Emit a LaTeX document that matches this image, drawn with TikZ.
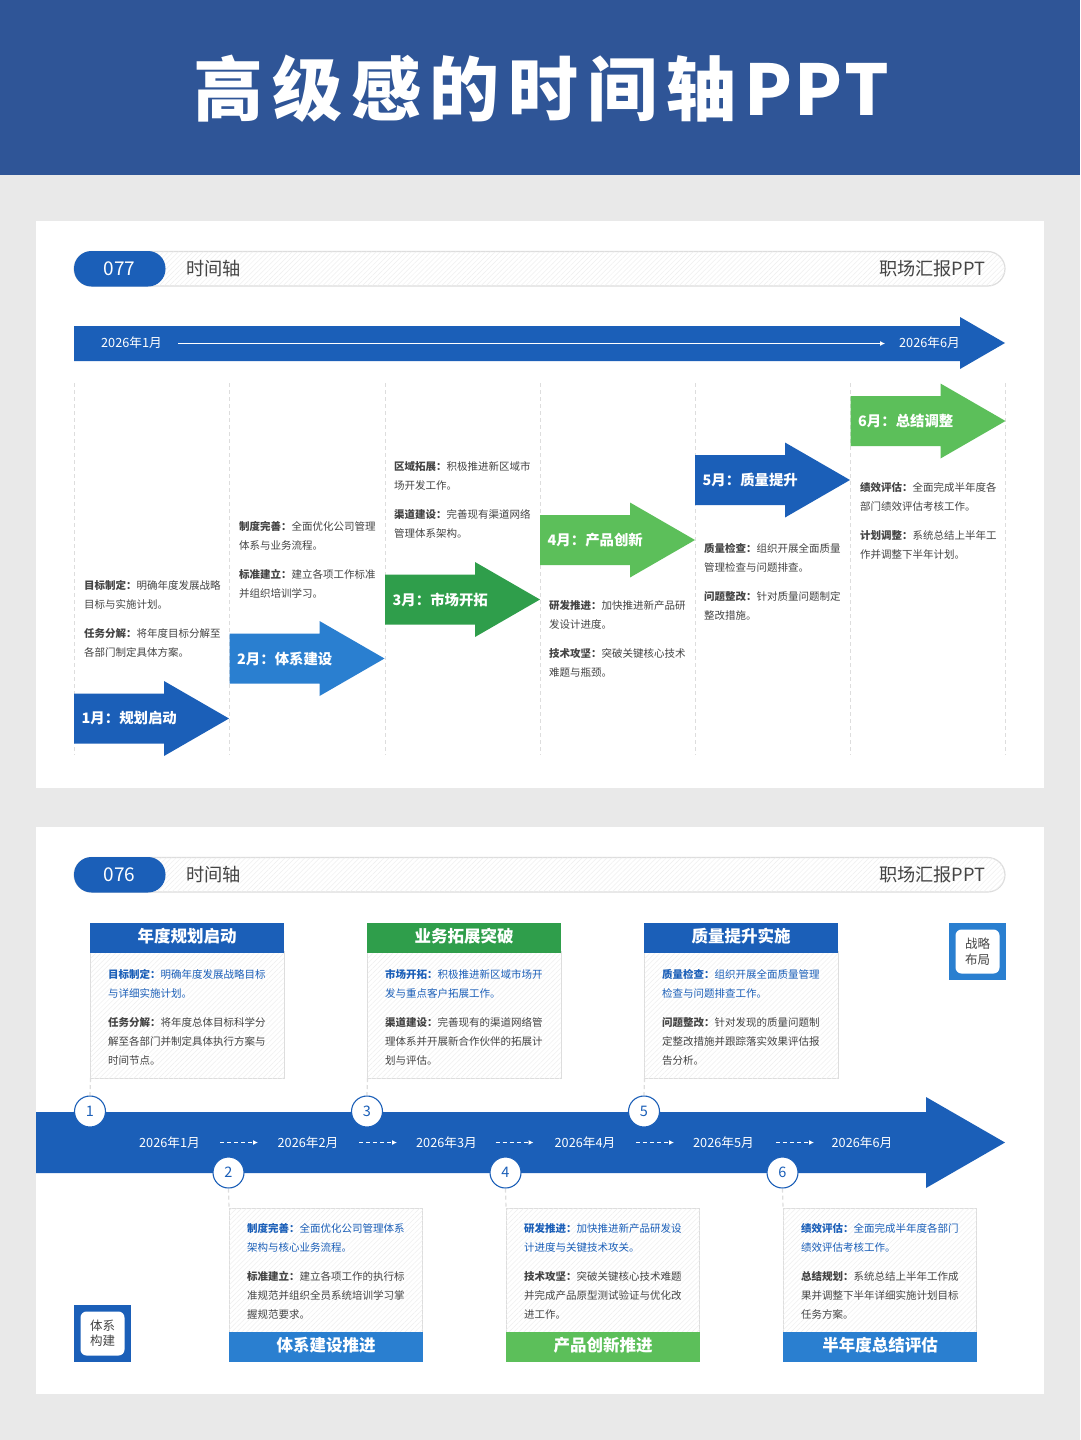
\documentclass[tikz,border=0pt]{standalone}
\usepackage{fontspec}
\usepackage{xcolor}
\setmainfont{Noto Sans CJK SC}
\newfontfamily\titlefont[LetterSpace=12.5]{Noto Sans CJK SC Black}
\newfontfamily\titlelat[LetterSpace=3.8]{Noto Sans CJK SC Black}
\newfontfamily\heavyfont{Noto Sans CJK SC Black}
\usepackage{tikz}
\usetikzlibrary{calc}
\usetikzlibrary{positioning}
\usetikzlibrary{arrows.meta}
\usetikzlibrary{patterns.meta}
\definecolor{headblue}{HTML}{2F5597}
\definecolor{tlblue}{HTML}{1B5FB8}
\definecolor{midblue}{HTML}{2A7FD0}
\definecolor{tlgreen}{HTML}{2F9E4B}
\definecolor{ltgreen}{HTML}{5CBF5A}
\definecolor{pagegray}{HTML}{E9E9E9}
\definecolor{linegray}{HTML}{DDDDDD}
\definecolor{hatchgray}{HTML}{EFEFEF}
\definecolor{inkgray}{HTML}{444444}
\newcommand{\hd}[1]{\textbf{#1：}}
\newcommand{\bluetxt}{\color{tlblue}}
\begin{document}
\begin{tikzpicture} [x=1pt,y=-1pt,>=latex,
     hatched/.style={fill=white, postaction={pattern={Lines[angle=45,distance=3.5pt,line width=.5pt]}, pattern color=hatchgray}},
     pill/.style={rounded corners=17.5pt, draw=linegray, line width=1.2pt, hatched},
     pillnum/.style={text=white, font=\fontsize{19}{24}\selectfont},
     pilltxt/.style={text=inkgray, font=\fontsize{18.2}{22}\selectfont},
     date/.style={text=white, font=\fontsize{12.7}{16}\selectfont},
     cardtxt/.style={anchor=north west, inner sep=0pt, align=left, text=inkgray, font=\fontsize{10.5}{19}\selectfont},
     cardbody/.style={anchor=north west, inner sep=0pt, outer sep=0pt, minimum width=193.5pt, draw=linegray, line width=1pt, hatched},
     cardhead/.style={anchor=north west, inner sep=0pt, outer sep=0pt, minimum width=194pt, minimum height=30pt, text depth=5.5pt, text=white, font=\heavyfont\fontsize{16.5}{20}\selectfont},
     numdot/.style={circle, draw=tlblue, line width=1.1pt, fill=white, text=tlblue, inner sep=0pt, minimum size=31pt, font=\fontsize{14.5}{16}\selectfont},
     linkdash/.style={draw=linegray, line width=1.2pt, dash pattern=on 4pt off 3pt},
     coldash/.style={draw=linegray, line width=.9pt, dash pattern=on 4pt off 3pt},
     stepdash/.style={draw=white, line width=1pt, dash pattern=on 4pt off 3pt, -{Latex[length=5pt,width=5pt]}},
     badge/.style={anchor=north west, inner sep=0pt, outer sep=0pt, minimum size=57pt},
     badgein/.style={rounded corners=6pt, fill=white, inner sep=0pt, minimum size=44pt, align=center, text=inkgray, font=\fontsize{12.5}{15.5}\selectfont}
   ]
\useasboundingbox (0,0) rectangle (1080,1440);
% Draw the page
\fill[pagegray] (0,0) rectangle (1080,1440);
\fill[headblue] (0,0) rectangle (1080,175);
\fill[white] (36,221) rectangle (1044,788);
\fill[white] (36,827) rectangle (1044,1394);
\node (title) at (541.5,89) [text=white, font=\fontsize{70}{80}\selectfont] {\titlefont 高级感的时间轴\kern8pt\titlelat PPT};

% first panel: header
\draw[pill] (74,251.5) rectangle (1005,286);
\fill[tlblue, rounded corners=17.5pt] (74,251) rectangle (165.5,286.5);
\node (num77) [pillnum] at (119.5,268.5) {077};
\node (tl77) [pilltxt, anchor=west, inner sep=0pt] at (186,268.5) {时间轴};
\node (pp77) [pilltxt, anchor=east, inner sep=0pt] at (985.5,268.5) {职场汇报PPT};
% first panel: long arrow
\fill[tlblue] (74,326) -- (960,326) -- (960,317) -- (1005,343) -- (960,369) -- (960,361) -- (74,361) -- cycle;
\node (start) [date] at (131.5,343) {2026年1月};
\node (stop) [date] at (929.5,343) {2026年6月};
\draw[white, -{Latex[length=5pt,width=5pt]}, line width=.8pt] (178,343.5) -- (885,343.5);
% column lines
\foreach \x in {74,229.5,385,540,695,850.5,1005}
  \draw[coldash] (\x,383) -- (\x,755);
% the six stepped arrows
\foreach \i/\x/\y/\col/\lab in {1/74/718.5/tlblue/1月：规划启动, 2/229.5/658.5/midblue/2月：体系建设,
    3/385/599.5/tlgreen/3月：市场开拓, 4/540/540/ltgreen/4月：产品创新,
    5/695/480/tlblue/5月：质量提升, 6/850.5/421/ltgreen/6月：总结调整} {
  \fill[\col] (\x,\y-25) -- (\x+90,\y-25) -- (\x+90,\y-37.5) -- (\x+155,\y) -- (\x+90,\y+37.5) -- (\x+90,\y+25) -- (\x,\y+25) -- cycle;
  \node (m\i) [anchor=west, inner sep=0pt, text=white, font=\heavyfont\fontsize{14.4}{16}\selectfont] at (\x+7.5,\y) {\lab};
}
% first panel: texts
\node (t1) [cardtxt] at (84,580.5) {\hd{目标制定}明确年度发展战略\\目标与实施计划。\\[10pt]\hd{任务分解}将年度目标分解至\\各部门制定具体方案。};
\node (t2) [cardtxt] at (239,521.5) {\hd{制度完善}全面优化公司管理\\体系与业务流程。\\[10pt]\hd{标准建立}建立各项工作标准\\并组织培训学习。};
\node (t3) [cardtxt] at (394,461.5) {\hd{区域拓展}积极推进新区域市\\场开发工作。\\[10pt]\hd{渠道建设}完善现有渠道网络\\管理体系架构。};
\node (t4) [cardtxt] at (549,600.5) {\hd{研发推进}加快推进新产品研\\发设计进度。\\[10pt]\hd{技术攻坚}突破关键核心技术\\难题与瓶颈。};
\node (t5) [cardtxt] at (704,543.5) {\hd{质量检查}组织开展全面质量\\管理检查与问题排查。\\[10pt]\hd{问题整改}针对质量问题制定\\整改措施。};
\node (t6) [cardtxt] at (860,482.5) {\hd{绩效评估}全面完成半年度各\\部门绩效评估考核工作。\\[10pt]\hd{计划调整}系统总结上半年工\\作并调整下半年计划。};

% second panel: header
\draw[pill] (74,857.5) rectangle (1005,892);
\fill[tlblue, rounded corners=17.5pt] (74,857) rectangle (165.5,892.5);
\node (num76) [pillnum] at (119.5,874.5) {076};
\node (tl76) [pilltxt, anchor=west, inner sep=0pt] at (186,874.5) {时间轴};
\node (pp76) [pilltxt, anchor=east, inner sep=0pt] at (985.5,874.5) {职场汇报PPT};
% second panel: big arrow
\fill[tlblue] (36,1112) -- (926,1112) -- (926,1097) -- (1005,1142.5) -- (926,1188) -- (926,1173) -- (36,1173) -- cycle;
\foreach \i/\x in {1/169.5,2/308,3/446.5,4/585,5/723.5,6/862}
  \node (d\i) [date] at (\x,1143) {2026年\i 月};
\draw[stepdash] (220,1142.5) -- (258,1142.5);
\draw[stepdash] (359,1142.5) -- (397,1142.5);
\draw[stepdash] (495.5,1142.5) -- (533.5,1142.5);
\draw[stepdash] (636,1142.5) -- (674,1142.5);
\draw[stepdash] (776,1142.5) -- (814,1142.5);
% upper cards
\node (card1) [cardbody, minimum height=127pt] at (90.5,951) {};
\node (card3) [cardbody, minimum height=127pt] at (367.5,951) {};
\node (card5) [cardbody, minimum height=127pt] at (644.5,951) {};
\node (head1) [cardhead, fill=tlblue] at (90,923) {年度规划启动};
\node (head3) [cardhead, fill=tlgreen] at (367,923) {业务拓展突破};
\node (head5) [cardhead, fill=tlblue] at (644,923) {质量提升实施};
% lower cards
\node (card2) [cardbody, minimum height=126pt] at (229,1208) {};
\node (card4) [cardbody, minimum height=126pt] at (506,1208) {};
\node (card6) [cardbody, minimum height=126pt] at (783,1208) {};
\node (head2) [cardhead, fill=midblue] at (229,1332) {体系建设推进};
\node (head4) [cardhead, fill=ltgreen] at (506,1332) {产品创新推进};
\node (head6) [cardhead, fill=midblue] at (783,1332) {半年度总结评估};
% number dots
\node (n1) [numdot] at (90,1111.5) {1};
\node (n3) [numdot] at (367,1111.5) {3};
\node (n5) [numdot] at (644,1111.5) {5};
\node (n2) [numdot] at (228.5,1172.5) {2};
\node (n4) [numdot] at (505.5,1172.5) {4};
\node (n6) [numdot] at (782.5,1172.5) {6};
% connect dots and cards
\draw[linkdash] (card1.south west) -- (n1.north);
\draw[linkdash] (card3.south west) -- (n3.north);
\draw[linkdash] (card5.south west) -- (n5.north);
\draw[linkdash] (n2.south) -- (card2.north west);
\draw[linkdash] (n4.south) -- (card4.north west);
\draw[linkdash] (n6.south) -- (card6.north west);
% card texts
\node (c1) [cardtxt] at (108,969.5) {\bluetxt\hd{目标制定}明确年度发展战略目标\\\bluetxt 与详细实施计划。\\[10pt]\hd{任务分解}将年度总体目标科学分\\解至各部门并制定具体执行方案与\\时间节点。};
\node (c3) [cardtxt] at (385,969.5) {\bluetxt\hd{市场开拓}积极推进新区域市场开\\\bluetxt 发与重点客户拓展工作。\\[10pt]\hd{渠道建设}完善现有的渠道网络管\\理体系并开展新合作伙伴的拓展计\\划与评估。};
\node (c5) [cardtxt] at (662,969.5) {\bluetxt\hd{质量检查}组织开展全面质量管理\\\bluetxt 检查与问题排查工作。\\[10pt]\hd{问题整改}针对发现的质量问题制\\定整改措施并跟踪落实效果评估报\\告分析。};
\node (c2) [cardtxt] at (247,1223.5) {\bluetxt\hd{制度完善}全面优化公司管理体系\\\bluetxt 架构与核心业务流程。\\[10pt]\hd{标准建立}建立各项工作的执行标\\准规范并组织全员系统培训学习掌\\握规范要求。};
\node (c4) [cardtxt] at (524,1223.5) {\bluetxt\hd{研发推进}加快推进新产品研发设\\\bluetxt 计进度与关键技术攻关。\\[10pt]\hd{技术攻坚}突破关键核心技术难题\\并完成产品原型测试验证与优化改\\进工作。};
\node (c6) [cardtxt] at (801,1223.5) {\bluetxt\hd{绩效评估}全面完成半年度各部门\\\bluetxt 绩效评估考核工作。\\[10pt]\hd{总结规划}系统总结上半年工作成\\果并调整下半年详细实施计划目标\\任务方案。};
% the two badges
\node (bd1) [badge, fill=midblue] at (949,923) {};
\node (bd1in) [badgein] at (bd1) {战略\\布局};
\node (bd2) [badge, fill=tlblue] at (74,1305) {};
\node (bd2in) [badgein] at (bd2) {体系\\构建};
\end{tikzpicture}
\end{document}
